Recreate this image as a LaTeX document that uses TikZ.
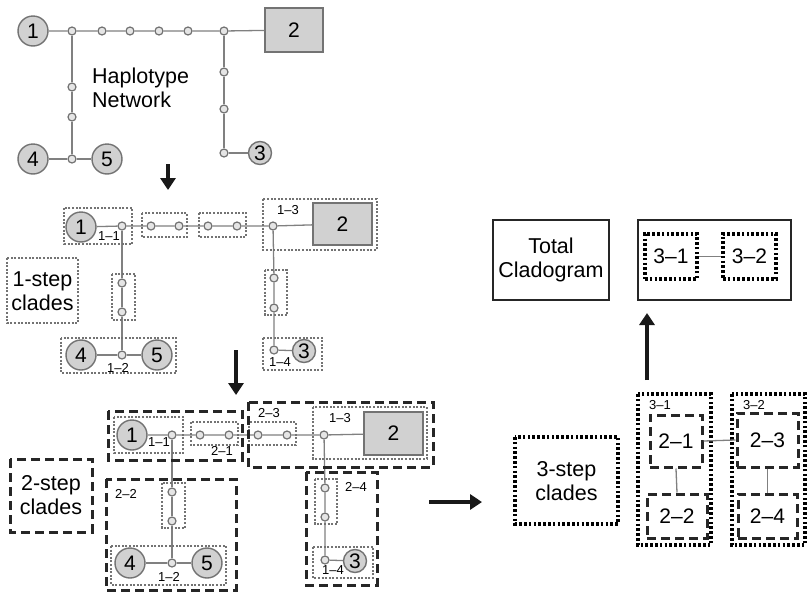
\documentclass[tikz,border=0pt]{standalone}
\usepackage{fontspec}
\setmainfont{Liberation Sans}
\usetikzlibrary{arrows.meta}
\begin{document}
\begin{tikzpicture}[x=1pt,y=-1pt,
  hap/.style={circle,draw=black!55,fill=black!18,line width=1.4pt,minimum size=30pt,inner sep=0pt,font=\fontsize{21}{21}\selectfont},
  hapsm/.style={hap,minimum size=23pt},
  mv/.style={circle,draw=black!55,fill=black!10,line width=1.2pt,minimum size=8pt,inner sep=0pt},
  hapbox/.style={rectangle,draw=black!55,fill=black!18,line width=1.4pt,inner sep=0pt,font=\fontsize{21}{21}\selectfont},
  link/.style={draw=black!50,line width=1.3pt},
  dotbox/.style={draw=black!55,line width=1.3pt,dash pattern=on 2pt off 1.6pt},
  dashbox/.style={draw=black!85,line width=3pt,dash pattern=on 9pt off 5pt},
  bigdot/.style={draw=black,line width=3.2pt,dash pattern=on 2.6pt off 2.2pt},
  plain/.style={draw=black!85,line width=2.2pt},
  lab/.style={inner sep=0pt,font=\fontsize{13}{13}\selectfont},
  big/.style={inner sep=0pt,align=center,font=\fontsize{21.5}{23.5}\selectfont},
  mid/.style={inner sep=0pt,font=\fontsize{21}{21}\selectfont},
  flow/.style={draw=black!90,line width=4.5pt,-{Triangle[width=15pt,length=12pt]}}]
\useasboundingbox (0,0) rectangle (807,592);

% ---------------- Top: haplotype network ----------------
\node[hap] (t1) at (33,31) {1};
\node[mv] (tj1) at (72,31) {};
\node[mv] (ta) at (102,31) {};
\node[mv] (tb) at (130,31) {};
\node[mv] (tc) at (159,31) {};
\node[mv] (td) at (188,31) {};
\node[mv] (tj2) at (224,31) {};
\node[hapbox,minimum width=58pt,minimum height=44pt] (t2) at (294,30) {2};
\node[mv] (te) at (72,87) {};
\node[mv] (tf) at (72,117) {};
\node[mv] (tj3) at (72,159) {};
\node[hap] (t4) at (33,159) {4};
\node[hap] (t5) at (107,159) {5};
\node[mv] (tg) at (224,72) {};
\node[mv] (th) at (224,109) {};
\node[mv] (ti) at (224,153) {};
\node[hapsm] (t3) at (260,153) {3};
\draw[link] (t1)--(tj1)--(ta)--(tb)--(tc)--(td)--(tj2)--(t2);
\draw[link] (tj1)--(te)--(tf)--(tj3);
\draw[link] (t4)--(tj3)--(t5);
\draw[link] (tj2)--(tg)--(th)--(ti)--(t3);
\node[big,anchor=west,align=left] (hn) at (92,88) {Haplotype\\Network};
\coordinate (a1s) at (168,164);
\coordinate (a1e) at (168,190);
\draw[flow] (a1s)--(a1e);

% ---------------- Middle: 1-step clades ----------------
\node[hap] (m1) at (81,227) {1};
\node[mv] (mj1) at (122,226) {};
\node[mv] (ma) at (151,226) {};
\node[mv] (mb) at (179,226) {};
\node[mv] (mc) at (208,226) {};
\node[mv] (md) at (237,226) {};
\node[mv] (mj2) at (273,226) {};
\node[hapbox,minimum width=59pt,minimum height=42pt] (m2) at (342.5,224) {2};
\node[mv] (me) at (122,283) {};
\node[mv] (mf) at (122,312) {};
\node[mv] (mj3) at (122,355) {};
\node[hap] (m4) at (81,355) {4};
\node[hap] (m5) at (157,355) {5};
\node[mv] (mg) at (274,278) {};
\node[mv] (mh) at (274,308) {};
\node[mv] (mi) at (274,350) {};
\node[hapsm] (m3) at (304,351) {3};
\draw[link] (m1)--(mj1)--(ma)--(mb)--(mc)--(md)--(mj2)--(m2);
\draw[link] (mj1)--(me)--(mf)--(mj3);
\draw[link] (m4)--(mj3)--(m5);
\draw[link] (mj2)--(mg)--(mh)--(mi)--(m3);
% clade boxes
\draw[dotbox] (64,208) rectangle (132,244);
\draw[dotbox] (142,213) rectangle (187,237);
\draw[dotbox] (199,213) rectangle (246,237);
\draw[dotbox] (263,199) rectangle (377,250);
\draw[dotbox] (112,274) rectangle (135,320);
\draw[dotbox] (61,338) rectangle (176,373);
\draw[dotbox] (265,270) rectangle (287,315);
\draw[dotbox] (263,338) rectangle (322,370);
\node[lab] (l11) at (109,236) {1–1};
\node[lab] (l13) at (288,210) {1–3};
\node[lab] (l12) at (118,368) {1–2};
\node[lab] (l14) at (280,362) {1–4};
\draw[dotbox] (7,258) rectangle (78,323);
\node[big] (s1) at (42.5,291) {1-step\\clades};
\coordinate (a2s) at (236,350);
\coordinate (a2e) at (236,395);
\draw[flow] (a2s)--(a2e);

% ---------------- Bottom: 2-step clades ----------------
\node[hap] (b1) at (132,435) {1};
\node[mv] (bj1) at (172,435) {};
\node[mv] (ba) at (200,435) {};
\node[mv] (bb) at (229,435) {};
\node[mv] (bc) at (258,435) {};
\node[mv] (bd) at (287,435) {};
\node[mv] (bj2) at (324,435) {};
\node[hapbox,minimum width=59pt,minimum height=43pt] (b2) at (393.5,433.5) {2};
\node[mv] (be) at (172,492) {};
\node[mv] (bf) at (172,521) {};
\node[mv] (bj3) at (172,563) {};
\node[hap] (b4) at (130,563) {4};
\node[hap] (b5) at (207,563) {5};
\node[mv] (bg) at (325,488) {};
\node[mv] (bh) at (325,517) {};
\node[mv] (bi) at (325,560) {};
\node[hapsm] (b3) at (355,561) {3};
\draw[link] (b1)--(bj1)--(ba)--(bb)--(bc)--(bd)--(bj2)--(b2);
\draw[link] (bj1)--(be)--(bf)--(bj3);
\draw[link] (b4)--(bj3)--(b5);
\draw[link] (bj2)--(bg)--(bh)--(bi)--(b3);
% 1-step boxes
\draw[dotbox] (114,417) rectangle (183,453);
\draw[dotbox] (191,422) rectangle (238,445);
\draw[dotbox] (249,422) rectangle (296,445);
\draw[dotbox] (313,407) rectangle (427,459);
\draw[dotbox] (162,483) rectangle (185,528);
\draw[dotbox] (111,546) rectangle (226,585);
\draw[dotbox] (315,479) rectangle (337,524);
\draw[dotbox] (313,547) rectangle (373,578);
% 2-step boxes
\draw[dashbox] (108,411) rectangle (242,460);
\draw[dashbox] (248,402) rectangle (433,467);
\draw[dashbox] (106,479) rectangle (236,590);
\draw[dashbox] (306,472) rectangle (377,585);
\node[lab] (k11) at (159,442) {1–1};
\node[lab] (k21) at (222,451) {2–1};
\node[lab] (k23) at (269,413) {2–3};
\node[lab] (k13) at (340,418) {1–3};
\node[lab] (k22) at (126,494) {2–2};
\node[lab] (k12) at (169,577) {1–2};
\node[lab] (k24) at (356,487) {2–4};
\node[lab] (k14) at (333,570) {1–4};
\draw[dashbox] (10,459) rectangle (92,532);
\node[big] (s2) at (51,495) {2-step\\clades};
\coordinate (a3s) at (429,502);
\coordinate (a3e) at (482,502);
\draw[flow] (a3s)--(a3e);

% ---------------- Right: 3-step clades ----------------
\draw[bigdot] (515,437) rectangle (618,524);
\node[big] (s3) at (566.5,481) {3-step\\clades};
\draw[bigdot] (638,394) rectangle (711,545);
\draw[bigdot] (732,394) rectangle (805,545);
\node[lab] (c31) at (660,405) {3–1};
\node[lab] (c32) at (754,405) {3–2};
\node[dashbox,minimum width=52pt,minimum height=52pt,inner sep=0pt] (c21) at (676,441) {};
\node[dashbox,minimum width=60pt,minimum height=44pt,inner sep=0pt] (c22) at (677,516) {};
\node[dashbox,minimum width=61pt,minimum height=54pt,inner sep=0pt] (c23) at (767.5,440) {};
\node[dashbox,minimum width=59pt,minimum height=44pt,inner sep=0pt] (c24) at (767.5,516) {};
\node[mid] at (c21) {2–1};
\node[mid] at (c22) {2–2};
\node[mid] at (c23) {2–3};
\node[mid] at (c24) {2–4};
\draw[link] (c21.south)--(c22.north);
\draw[link] (c23.south)--(c24.north);
\draw[link] (c21.east)--(c23.west);
\coordinate (a4s) at (647,380);
\coordinate (a4e) at (647,313);
\draw[flow] (a4s)--(a4e);

% ---------------- Top right: total cladogram ----------------
\node[plain,minimum width=116pt,minimum height=80pt,inner sep=0pt] (tc) at (551,260) {};
\node[big] at (tc) {Total\\Cladogram};
\node[plain,minimum width=153pt,minimum height=80pt,inner sep=0pt] (tcr) at (714.5,260) {};
\node[bigdot,minimum width=52pt,minimum height=45pt,inner sep=0pt] (c31b) at (671,256.5) {};
\node[bigdot,minimum width=53pt,minimum height=45pt,inner sep=0pt] (c32b) at (749.5,256.5) {};
\node[mid] at (c31b) {3–1};
\node[mid] at (c32b) {3–2};
\draw[link] (c31b.east)--(c32b.west);
\end{tikzpicture}
\end{document}
